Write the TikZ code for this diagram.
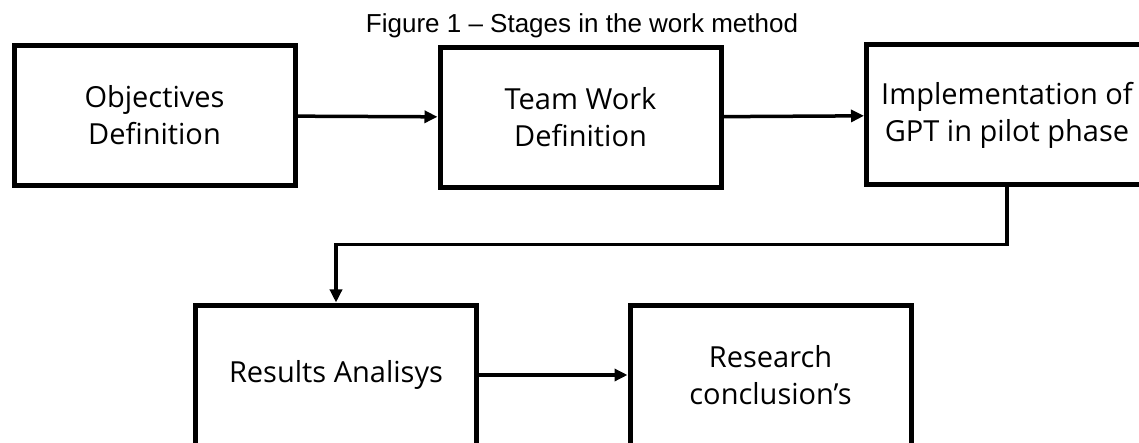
\documentclass[tikz,border=0pt]{standalone}
\usepackage{fontspec}
\setmainfont{Open Sans}
\newfontfamily\capfont{Liberation Sans}
\usepackage{tikz}
\usetikzlibrary{arrows.meta, positioning}

\tikzset{
  stage/.style={draw, line width=5pt, minimum width=281pt, minimum height=140pt,
    align=center, font=\fontsize{29}{37}\selectfont},
  flow/.style={line width=3.5pt, -{Triangle[length=13pt, width=12pt]}}
}

\begin{document}
\begin{tikzpicture}[x=1pt, y=-1pt]
  \useasboundingbox (0,0) rectangle (1139,443);
  \node[anchor=base, font=\capfont\fontsize{26}{30}\selectfont] (cap) at (582,33) {Figure 1 – Stages in the work method};
  \node[stage] (obj) at (154.5,115.5) {Objectives\\Definition};
  \node[stage] (team) at (580.5,117.5) {Team Work\\Definition};
  \node[stage] (impl) at (1007,115) {Implementation of\\GPT in pilot phase};
  \node[stage] (res) at (336,375) {Results Analisys};
  \node[stage] (concl) at (770.5,375) {Research\\conclusion’s};
  \draw[flow] (obj) -- (team);
  \draw[flow] (team) -- (impl);
  \draw[flow] (impl.south) -- ++(0,57) -| (res.north);
  \draw[flow] (res) -- (concl);
\end{tikzpicture}
\end{document}
